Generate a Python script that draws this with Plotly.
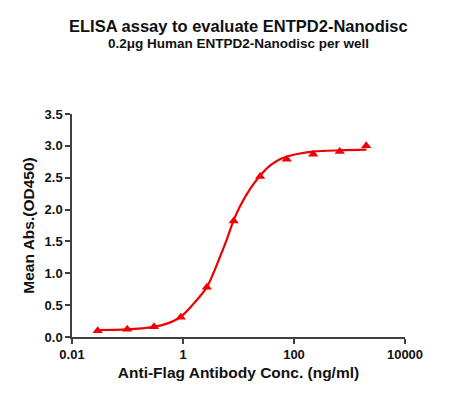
import plotly.graph_objects as go

# measured points (ng/ml, OD450)
conc = [0.029, 0.099, 0.30, 0.91, 2.69, 8.2, 24.5, 74, 222, 667, 2000]
od450 = [0.10, 0.12, 0.16, 0.31, 0.78, 1.82, 2.52, 2.79, 2.87, 2.91, 3.00]

# fitted curve
curve_conc = [0.029, 0.0975, 0.294, 0.513, 0.887, 1.54, 2.68, 3.52, 4.65, 6.14,
              8.07, 10.6, 16.1, 24.4, 36.9, 55.8, 73.6, 128, 222, 670, 2023]
curve_od = [0.11, 0.12, 0.16, 0.21, 0.31, 0.52, 0.78, 1.00, 1.26, 1.53,
            1.82, 2.05, 2.32, 2.53, 2.69, 2.79, 2.83, 2.88, 2.91, 2.93, 2.94]

x_ticks = [0.01, 1, 100, 10000]
x_tick_text = ["0.01", "1", "100", "10000"]
y_ticks = [0, 0.5, 1.0, 1.5, 2.0, 2.5, 3.0, 3.5]

RED = "#f00000"
AXIS = "#404040"
TEXT = "#111111"
FONT = "Liberation Sans, Arial, sans-serif"

fig = go.Figure()

fig.add_trace(go.Scatter(
    x=curve_conc, y=curve_od,
    mode="lines",
    line=dict(color=RED, width=2.2, shape="spline", smoothing=1.0),
    hoverinfo="skip",
    showlegend=False,
))

fig.add_trace(go.Scatter(
    x=conc, y=od450,
    mode="markers",
    marker=dict(symbol="triangle-up", size=9, color=RED),
    showlegend=False,
))

# page puts the plot 8px in from the window edge, margins allow for it
fig.update_layout(
    width=453, height=400,
    margin=dict(l=64, r=56, t=106, b=71),
    paper_bgcolor="white",
    plot_bgcolor="white",
    font=dict(family=FONT, color=TEXT),
    annotations=[
        dict(text="<b>ELISA assay to evaluate ENTPD2-Nanodisc</b>",
             xref="paper", yref="paper", x=0.5, y=1.0, yshift=88,
             xanchor="center", yanchor="middle", showarrow=False,
             font=dict(size=16.5, family=FONT, color=TEXT)),
        dict(text="<b>0.2μg Human ENTPD2-Nanodisc per well</b>",
             xref="paper", yref="paper", x=0.5, y=1.0, yshift=71,
             xanchor="center", yanchor="middle", showarrow=False,
             font=dict(size=13.5, family=FONT, color=TEXT)),
    ],
    xaxis=dict(
        type="log",
        range=[-2, 4],
        tickvals=x_ticks,
        ticktext=x_tick_text,
        ticks="outside", ticklen=5, tickwidth=1.5, tickcolor=AXIS,
        showline=True, linecolor=AXIS, linewidth=1.5,
        showgrid=False, zeroline=False,
        tickfont=dict(size=13, family=FONT, weight="bold", color=TEXT),
        title=dict(text="Anti-Flag Antibody Conc. (ng/ml)", standoff=6,
                   font=dict(size=15.5, family=FONT, weight="bold", color=TEXT)),
    ),
    yaxis=dict(
        range=[0, 3.5],
        tickvals=y_ticks,
        tickformat=".1f",
        ticks="outside", ticklen=5, tickwidth=1.5, tickcolor=AXIS,
        showline=True, linecolor=AXIS, linewidth=1.5,
        showgrid=False, zeroline=False,
        tickfont=dict(size=13, family=FONT, weight="bold", color=TEXT),
        title=dict(text="Mean Abs.(OD450)", standoff=6,
                   font=dict(size=15.5, family=FONT, weight="bold", color=TEXT)),
    ),
)

fig.write_html("out.html")
